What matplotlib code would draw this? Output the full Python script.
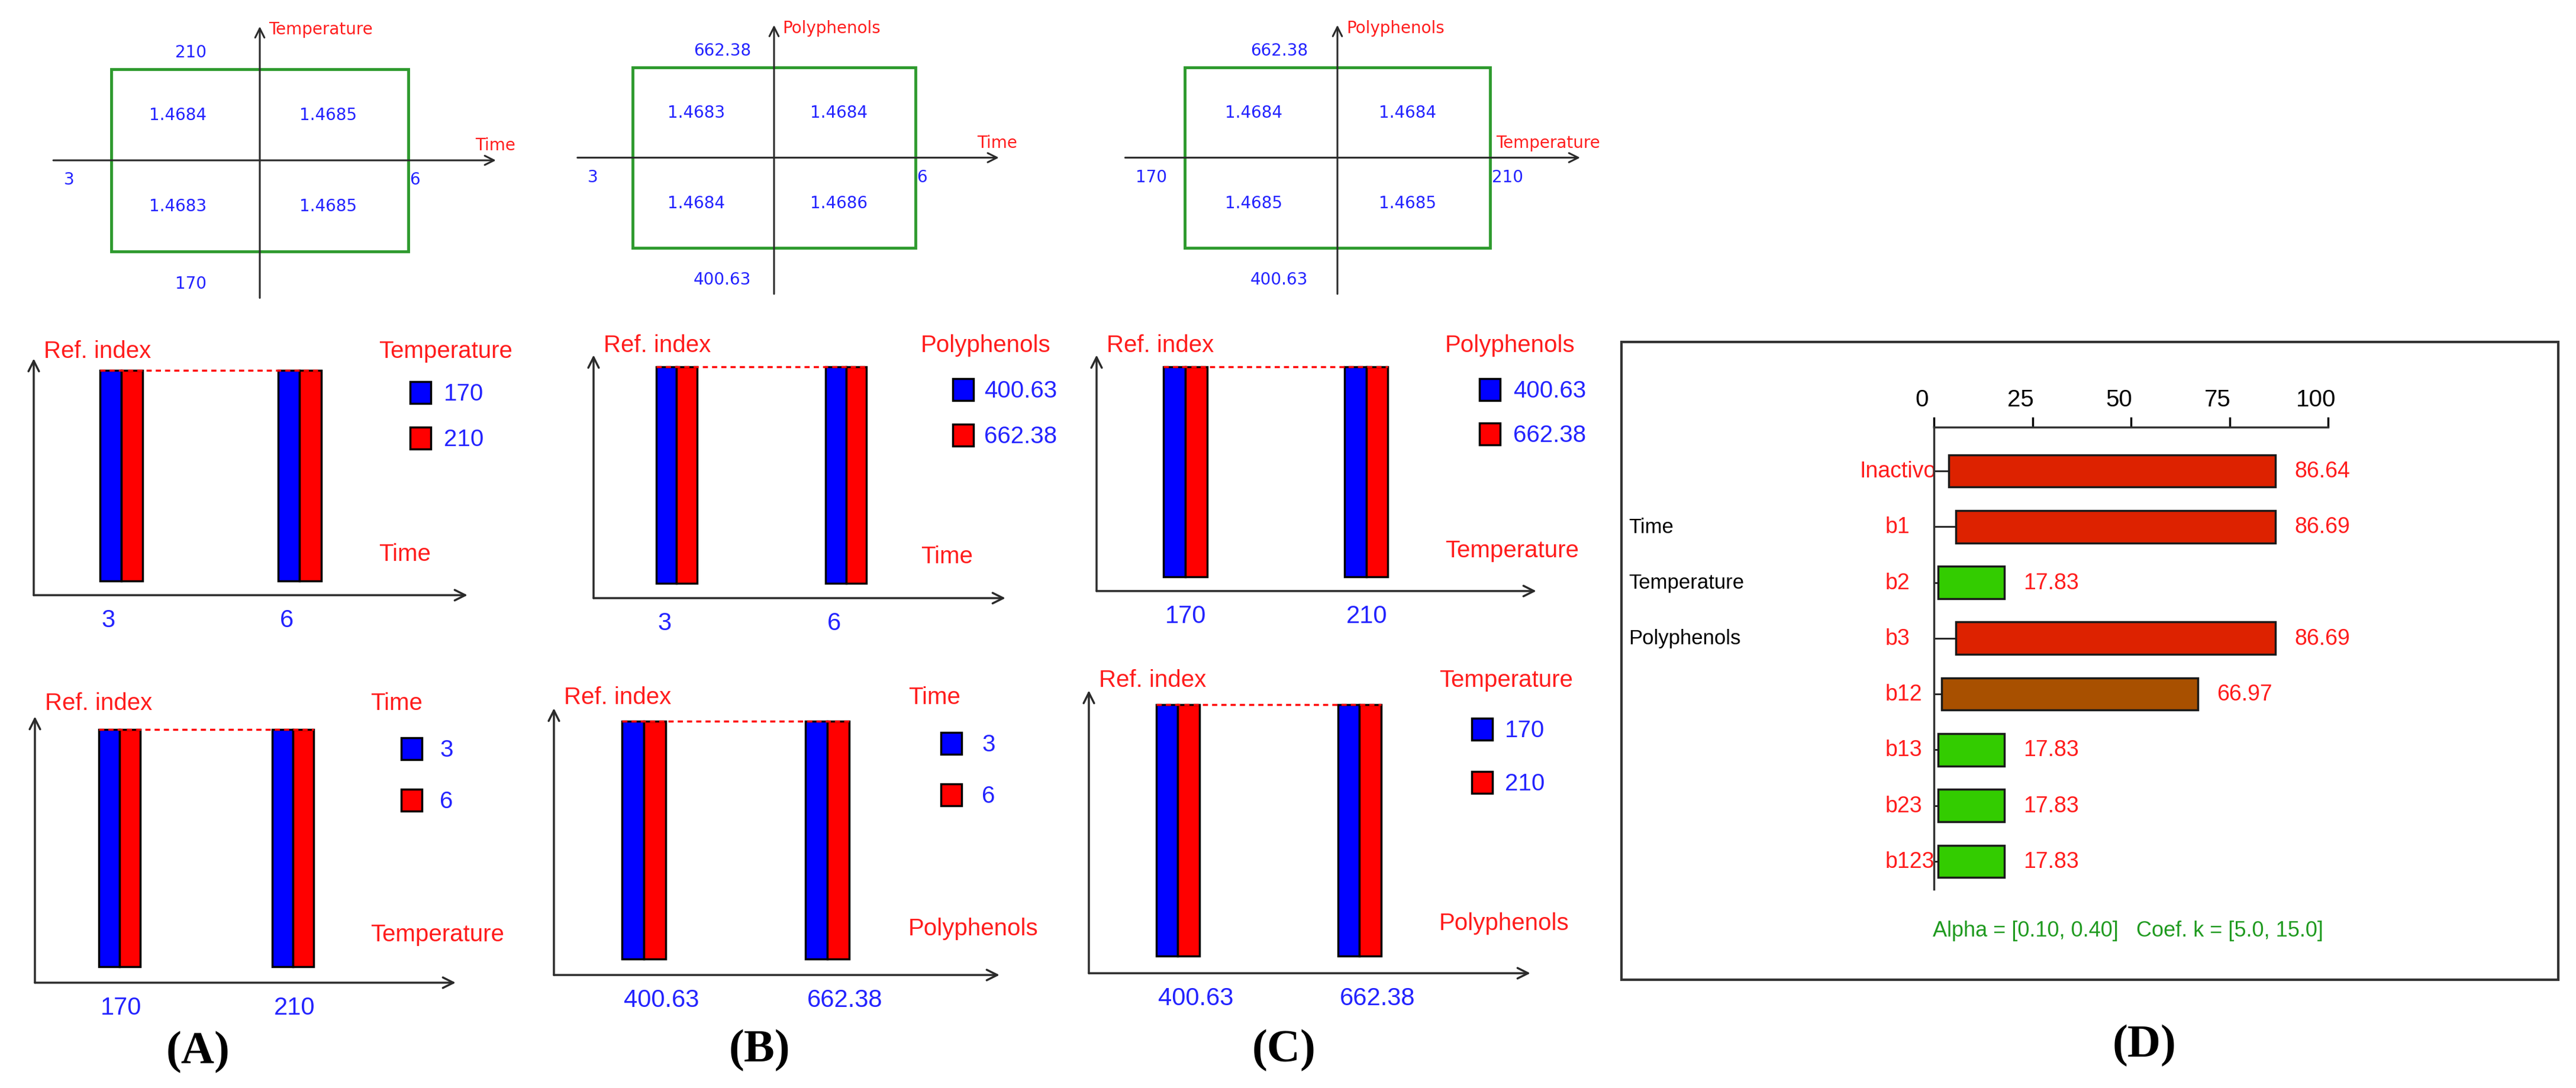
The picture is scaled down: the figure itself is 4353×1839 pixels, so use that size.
import matplotlib.pyplot as plt
from matplotlib.patches import Rectangle
from matplotlib.transforms import ScaledTranslation

W, H = 4353, 1840
NARROW = ['Liberation Sans Narrow', 'Liberation Sans', 'DejaVu Sans']
BLUE_TXT = '#2323ff'
RED_TXT = '#ff1c1c'
AXIS_COL = '#2a2a2a'

# ---------------- data ----------------
time_lv = ['3', '6']
temp_lv = ['170', '210']
poly_lv = ['400.63', '662.38']

# 2x2 squares, rows = high / low level of the vertical factor, cols = low / high of horizontal
sq_time_temp = [[1.4684, 1.4685], [1.4683, 1.4685]]
sq_time_poly = [[1.4683, 1.4684], [1.4684, 1.4686]]
sq_temp_poly = [[1.4684, 1.4684], [1.4685, 1.4685]]

# interaction bars, [x level][series level]
ri_time_by_temp = [[1.4683, 1.4684], [1.4685, 1.4685]]
ri_temp_by_time = [[1.4683, 1.4685], [1.4684, 1.4685]]
ri_time_by_poly = [[1.4684, 1.4683], [1.4686, 1.4684]]
ri_poly_by_time = [[1.4684, 1.4686], [1.4683, 1.4684]]
ri_temp_by_poly = [[1.4685, 1.4684], [1.4685, 1.4684]]
ri_poly_by_temp = [[1.4685, 1.4685], [1.4684, 1.4684]]

# panel D effects
eff_names = ['Inactivo', 'b1', 'b2', 'b3', 'b12', 'b13', 'b23', 'b123']
eff_values = [86.64, 86.69, 17.83, 86.69, 66.97, 17.83, 17.83, 17.83]
eff_start = [3.8, 5.6, 1.0, 5.6, 2.0, 1.0, 1.0, 1.0]
eff_colors = ['#dd2200', '#dd2200', '#33cc00', '#dd2200', '#a85000', '#33cc00', '#33cc00', '#33cc00']
factor_names = ['Time', 'Temperature', 'Polyphenols']


def rect(x0, y0, x1, y1):
    return [x0 / W, 1 - y1 / H, (x1 - x0) / W, (y1 - y0) / H]


def fx(x):
    return x / W


def fy(y):
    return 1 - y / H


fig = plt.figure(figsize=(W / 100, H / 100), dpi=100)


def square(box, vals, xlv, ylv, xname, yname):
    ax = fig.add_axes(rect(*box))
    ax.set_xlim(-1, 1)
    ax.set_ylim(-1, 1)
    ax.axis('off')
    ax.add_patch(Rectangle((-1, -1), 2, 2, fill=False, ec='#2e9a2e', lw=3.5, clip_on=False, zorder=1))
    arr = dict(arrowstyle='->', color=AXIS_COL, lw=2.2, mutation_scale=28, shrinkA=0, shrinkB=0)
    ax.annotate('', xy=(1.59, 0), xytext=(-1.39, 0), arrowprops=arr, annotation_clip=False, zorder=2)
    ax.annotate('', xy=(0, 1.47), xytext=(0, -1.51), arrowprops=arr, annotation_clip=False, zorder=2)
    kw = dict(fontsize=20, color=BLUE_TXT, va='center')
    for i, row in enumerate(vals):
        for j, v in enumerate(row):
            ax.text([-0.55, 0.46][j], [0.5, -0.5][i], f'{v:.4f}', ha='center', **kw)
    ax.text(-1.32, -0.21, xlv[0], ha='left', **kw)
    ax.text(1.01, -0.21, xlv[1], ha='left', **kw)
    ax.text(-0.57, 1.19, ylv[1], ha='left', **kw)
    ax.text(-0.57, -1.35, ylv[0], ha='left', **kw)
    ax.text(0.06, 1.44, yname, ha='left', va='center', fontsize=20, color=RED_TXT)
    ax.text(1.72, 0.17, xname, ha='right', va='center', fontsize=20, color=RED_TXT, zorder=0)


def bars(box, vals, xlv, slv, xname, sname, leg):
    ax = fig.add_axes(rect(*box))
    ax.set_xlim(-0.49, 1.94)
    ax.set_ylim(-0.1, 1.55)
    idx = list(range(len(xlv)))
    for s, col in enumerate(['#0000ff', '#ff0000']):
        ax.bar([i + (s - 0.5) * 0.12 for i in idx], [v[s] for v in vals], width=0.12,
               color=col, edgecolor='black', lw=2.5, zorder=2)
    top = max(max(v) for v in vals)
    ax.plot([idx[0] - 0.12, idx[-1] + 0.12], [top, top], color='red', lw=2.5,
            ls=(0, (2.5, 2)), zorder=3)
    for sp in ax.spines.values():
        sp.set_visible(False)
    ax.set_yticks([])
    ax.set_xticks([i - 0.11 for i in idx], xlv)
    ax.tick_params(axis='x', length=0, pad=16, labelsize=30, labelcolor=BLUE_TXT)
    for lab in ax.get_xticklabels():
        lab.set_ha('left')
        lab.set_family(NARROW)
    arr = dict(arrowstyle='->', color=AXIS_COL, lw=2.5, mutation_scale=32, shrinkA=0, shrinkB=0)
    ax.annotate('', xy=(1, 0), xytext=(0, 0), xycoords='axes fraction', arrowprops=arr)
    ax.annotate('', xy=(0, 1), xytext=(0, 0), xycoords='axes fraction', arrowprops=arr)

    tx, ty, px, py, dy, lx, ny = leg
    tkw = dict(fontsize=29, family=NARROW, va='center', ha='left')
    fig.text(fx(box[0] + 17), fy(ty), 'Ref. index', color=RED_TXT, **tkw)
    fig.text(fx(tx), fy(ty), sname, color=RED_TXT, **tkw)
    fig.text(fx(tx), fy(ny), xname, color=RED_TXT, **tkw)
    for s, col in enumerate(['#0000ff', '#ff0000']):
        y0 = py + s * dy
        fig.patches.append(Rectangle((fx(px), fy(y0 + 37)), 35 / W, 37 / H, transform=fig.transFigure,
                                     fc=col, ec='black', lw=2.5))
        fig.text(fx(lx), fy(y0 + 20), slv[s], color=BLUE_TXT, **tkw)


# squares
square((188, 118, 690, 426), sq_time_temp, time_lv, temp_lv, 'Time', 'Temperature')
square((1069, 115, 1547, 420), sq_time_poly, time_lv, poly_lv, 'Time', 'Polyphenols')
square((2002, 115, 2518, 420), sq_temp_poly, temp_lv, poly_lv, 'Temperature', 'Polyphenols')

# interaction bar charts
bars((57, 607, 790, 1007), ri_time_by_temp, time_lv, temp_lv, 'Time', 'Temperature',
     (640, 594, 693, 646, 77, 750, 937))
bars((59, 1212, 770, 1662), ri_temp_by_time, temp_lv, time_lv, 'Temperature', 'Time',
     (626, 1189, 678, 1248, 87, 743, 1580))
bars((1003, 601, 1699, 1012), ri_time_by_poly, time_lv, poly_lv, 'Time', 'Polyphenols',
     (1556, 584, 1610, 641, 77, 1663, 941))
bars((936, 1198, 1689, 1649), ri_poly_by_time, poly_lv, time_lv, 'Polyphenols', 'Time',
     (1535, 1179, 1590, 1239, 87, 1659, 1570))
bars((1853, 601, 2596, 1000), ri_temp_by_poly, temp_lv, poly_lv, 'Temperature', 'Polyphenols',
     (2442, 584, 2500, 641, 75, 2557, 931))
bars((1840, 1168, 2586, 1646), ri_poly_by_temp, poly_lv, temp_lv, 'Polyphenols', 'Temperature',
     (2432, 1150, 2487, 1215, 90, 2543, 1561))

# panel D
fig.patches.append(Rectangle((fx(2740), fy(1657)), (4323 - 2740) / W, (1657 - 579) / H,
                             transform=fig.transFigure, fill=False, ec='#333333', lw=3))
axd = fig.add_axes(rect(3268, 723, 3934, 1504))
axd.set_xlim(0, 100)
axd.set_ylim(7.5, -0.785)
ypos = list(range(len(eff_names)))
axd.barh(ypos, [v - s for v, s in zip(eff_values, eff_start)], left=eff_start, height=0.58,
         color=eff_colors, edgecolor='#1a1a1a', lw=2.5, zorder=3)
axd.hlines(ypos, 0, eff_start, color='#1a1a1a', lw=2, zorder=2)
for sp in ['right', 'bottom']:
    axd.spines[sp].set_visible(False)
for sp in ['top', 'left']:
    axd.spines[sp].set_linewidth(2.5)
    axd.spines[sp].set_color('#333333')
axd.xaxis.tick_top()
axd.set_xticks([0, 25, 50, 75, 100])
axd.set_yticks([])
axd.tick_params(axis='x', direction='out', length=12, width=2.5, pad=8, labelsize=29)
for lab in axd.get_xticklabels():
    lab.set_family(NARROW)
    lab.set_transform(lab.get_transform() + ScaledTranslation(-0.2, 0, fig.dpi_scale_trans))
for i, (n, v) in enumerate(zip(eff_names, eff_values)):
    if i == 0:
        axd.text(0.6, i, n, ha='right', va='center', color=RED_TXT, fontsize=27, family=NARROW, zorder=1)
    else:
        axd.text(-12.3, i, n, ha='left', va='center', color=RED_TXT, fontsize=27, family=NARROW)
    axd.text(v + 4.8, i, f'{v:.2f}', ha='left', va='center', color=RED_TXT, fontsize=27, family=NARROW)
for i, n in enumerate(factor_names):
    axd.text(-77.5, i + 1, n, ha='left', va='center', color='black', fontsize=25, family=NARROW)
fig.text(fx(3266), fy(1574), 'Alpha = [0.10, 0.40]   Coef. k = [5.0, 15.0]', color='#1f9a1f',
         fontsize=26, family=NARROW, va='center', ha='left')

# panel letters
for lab, x, y in [('(A)', 335, 1779), ('(B)', 1283, 1776), ('(C)', 2170, 1776), ('(D)', 3624, 1768)]:
    fig.text(fx(x), fy(y), lab, fontsize=56, fontweight='bold', family='Liberation Serif',
             ha='center', va='center')

fig.savefig('out.png', dpi=100, facecolor='white')
